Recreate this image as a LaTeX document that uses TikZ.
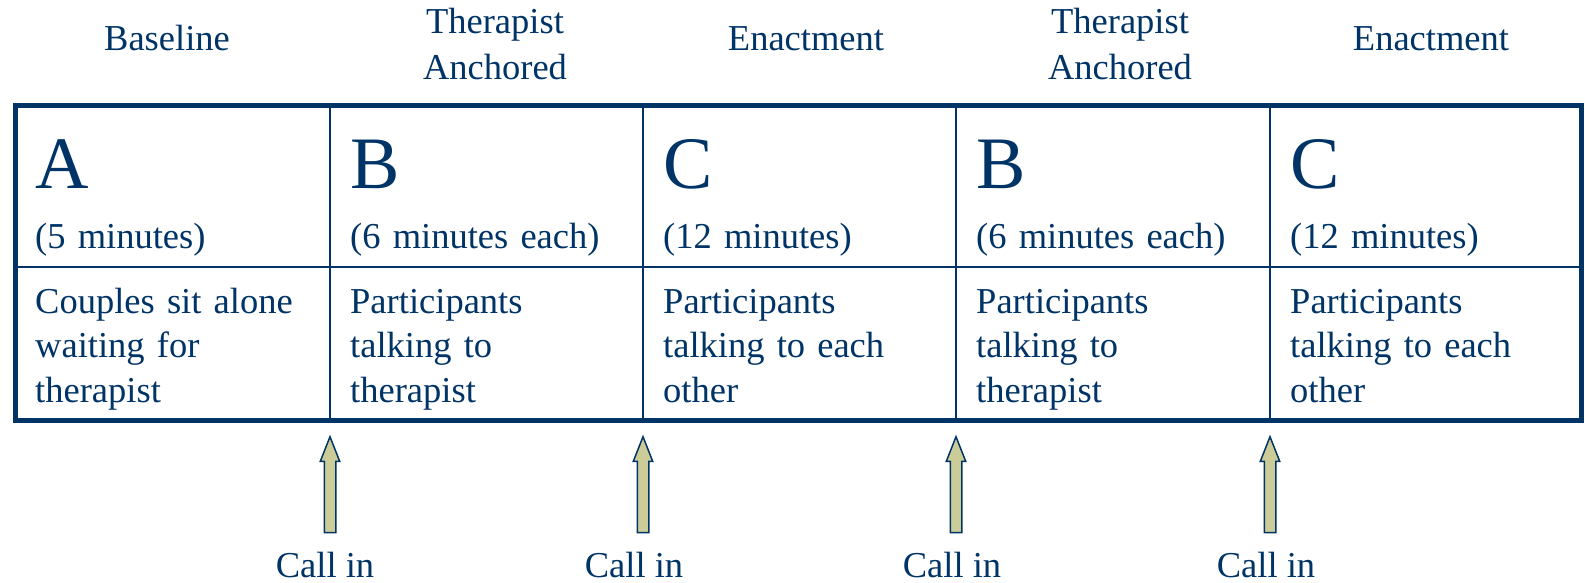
\documentclass[tikz,border=0pt]{standalone}
\usepackage{fontspec}
\setmainfont{Liberation Serif}
\usetikzlibrary{positioning, shapes.arrows}

\definecolor{navy}{RGB}{0,51,102}
\definecolor{khaki}{RGB}{204,204,153}

\tikzset{
	txt/.style={font=\fontsize{36.5}{44.7}\selectfont, text=navy, inner sep=0pt},
	head/.style={txt, font=\fontsize{36.5}{46.5}\selectfont, anchor=base, text width=300pt, align=center},
	cell/.style={txt, anchor=base west, text width=285pt, align=left},
	phase/.style={font=\fontsize{74}{80}\selectfont, text=navy, inner sep=0pt, anchor=base west},
	callarrow/.style={single arrow, draw=navy, fill=khaki, line width=1.5pt,
		shape border rotate=90, minimum height=96pt, inner sep=5pt,
		single arrow head extend=4pt, single arrow tip angle=43,
		single arrow head indent=0pt},
}

\begin{document}
\begin{tikzpicture}[x=1pt, y=-1pt]
				\useasboundingbox (0,0) rectangle (1585,582);
				
				% headings above the table
				\node[head] (headA) at (167,50) {Baseline};
				\node[head] (headB1) at (495,33) {Therapist\\Anchored};
				\node[head] (headC1) at (806,50) {Enactment};
				\node[head] (headB2) at (1120,33) {Therapist\\Anchored};
				\node[head] (headC2) at (1431,50) {Enactment};
				
				% table grid
				\draw[navy, line width=5pt] (15,105) rectangle (1581,420);
				\draw[navy, line width=2pt] (15,267) -- (1581,267);
				\draw[navy, line width=2pt] (330,105) -- (330,420);
				\draw[navy, line width=2pt] (643,105) -- (643,420);
				\draw[navy, line width=2pt] (956,105) -- (956,420);
				\draw[navy, line width=2pt] (1270,105) -- (1270,420);
				
				% phase letters
				\node[phase] (letA) at (35,188) {A};
				\node[phase] (letB1) at (350,188) {B};
				\node[phase] (letC1) at (663,188) {C};
				\node[phase] (letB2) at (976,188) {B};
				\node[phase] (letC2) at (1290,188) {C};
				
				% durations
				\node[cell] (timeA) at (35,248) {(5 minutes)};
				\node[cell] (timeB1) at (350,248) {(6 minutes each)};
				\node[cell] (timeC1) at (663,248) {(12 minutes)};
				\node[cell] (timeB2) at (976,248) {(6 minutes each)};
				\node[cell] (timeC2) at (1290,248) {(12 minutes)};
				
				% what happens in each phase
				\node[cell] (textA) at (35,313) {Couples sit alone\\waiting for\\therapist};
				\node[cell] (textB1) at (350,313) {Participants\\talking to\\therapist};
				\node[cell] (textC1) at (663,313) {Participants\\talking to each\\other};
				\node[cell] (textB2) at (976,313) {Participants\\talking to\\therapist};
				\node[cell] (textC2) at (1290,313) {Participants\\talking to each\\other};
				
				% call-in points
				\node[callarrow] (arr1) at (330,492) {};
				\node[callarrow] (arr2) at (643,492) {};
				\node[callarrow] (arr3) at (956,492) {};
				\node[callarrow] (arr4) at (1270,492) {};
				
				\node[txt, anchor=base] (call1) at (325,577) {Call in};
				\node[txt, anchor=base] (call2) at (634,577) {Call in};
				\node[txt, anchor=base] (call3) at (952,577) {Call in};
				\node[txt, anchor=base] (call4) at (1266,577) {Call in};
			\end{tikzpicture}
\end{document}
